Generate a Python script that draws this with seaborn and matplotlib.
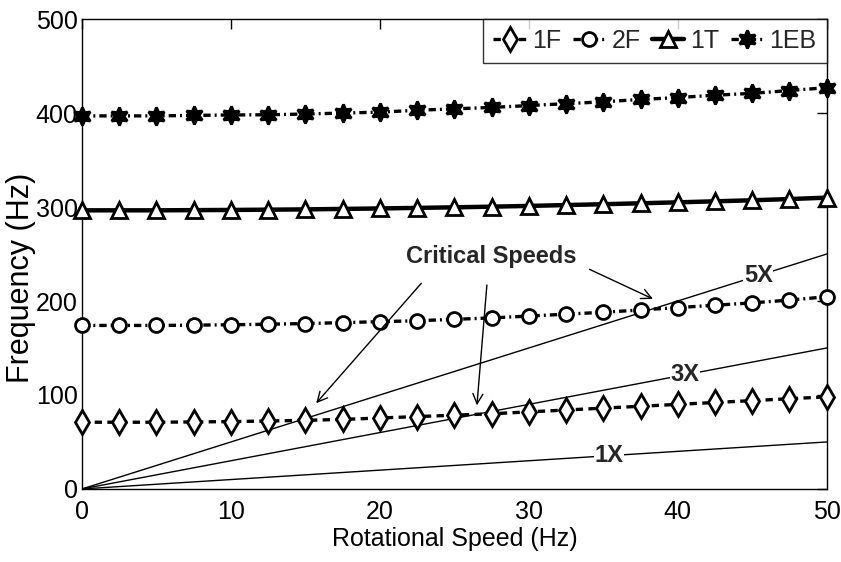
import numpy as np
import pandas as pd
import matplotlib
matplotlib.use("Agg")
import matplotlib.pyplot as plt
import seaborn as sns

# ---- data ----
speed = [0, 2.5, 5, 7.5, 10, 12.5, 15, 17.5, 20, 22.5, 25, 27.5, 30, 32.5, 35, 37.5, 40, 42.5, 45, 47.5, 50]
f_1F = [71, 71, 71, 71.3, 71.7, 72.3, 73, 74, 75.5, 77, 78.5, 80, 82, 84, 86, 88, 90, 92, 94, 96, 98]
f_2F = [174, 174, 174, 174.3, 174.7, 175.3, 176, 177, 178, 179, 180.5, 182, 184, 186, 188, 190.5, 193, 195.5, 198, 201, 204.5]
f_1T = [296.5, 296.5, 296.5, 296.7, 296.9, 297.2, 297.5, 298, 298.5, 299.1, 299.7, 300.4, 301.2, 302.1, 303, 304, 305, 306.1, 307.2, 308.5, 310]
f_1EB = [397, 397, 397, 397.5, 398, 398.2, 399, 400, 401, 403, 404.5, 406, 408, 410, 412, 414.5, 416.5, 419, 421, 424, 427]
series_names = ["1F", "2F", "1T", "1EB"]
orders = [1, 3, 5]
order_labels = ["1X", "3X", "5X"]
order_label_x = [35.4, 40.5, 45.4]
speed_range = [0, 50]
x_ticks = [0, 10, 20, 30, 40, 50]
y_ticks = [0, 100, 200, 300, 400, 500]
annot_text = "Critical Speeds"
annot_text_pos = (27.5, 247)
annot_starts = [(22.9, 221), (27.2, 220), (33.9, 235)]
annot_ends = [(15.6, 89), (26.5, 86), (38.5, 201)]

sns.set_theme(style="white")
plt.rcParams['font.family'] = ['Liberation Sans', 'DejaVu Sans']

fig = plt.figure(figsize=(8.41, 5.62), dpi=100)
ax = fig.add_axes([0.0975, 0.13, 0.8855, 0.836])

# reference order lines
for k, lab, lx in zip(orders, order_labels, order_label_x):
    ax.plot(speed_range, [k * s for s in speed_range], color="black", lw=1.0, zorder=1)
    ax.text(lx, k * lx, lab, ha="center", va="center", fontsize=17, fontweight="bold",
            bbox=dict(facecolor="white", edgecolor="none", pad=0.5), zorder=2)

styles = {
    "1F": dict(marker="d", linestyle=(0, (2.2, 1.6)), lw=2.4, ms=12, mfc="white"),
    "2F": dict(marker="o", linestyle=(0, (2.2, 1.2, 0.6, 1.2)), lw=2.4, ms=10, mfc="white"),
    "1T": dict(marker="^", linestyle="-", lw=3.2, ms=12, mfc="white"),
    "1EB": dict(marker=(6, 1, 0), linestyle=(0, (2.2, 1.2, 0.6, 1.2)), lw=2.4, ms=13, mfc="black"),
}
for name, vals in zip(series_names, [f_1F, f_2F, f_1T, f_1EB]):
    st = styles[name]
    sns.lineplot(x=speed, y=vals, ax=ax, color="black", label=name,
                 marker=st["marker"], linestyle=st["linestyle"], linewidth=st["lw"],
                 markersize=st["ms"], markerfacecolor=st["mfc"], markeredgecolor="black",
                 markeredgewidth=2.0, zorder=3, clip_on=False)

for (sx, sy), (ex, ey) in zip(annot_starts, annot_ends):
    ax.annotate("", xy=(ex, ey), xytext=(sx, sy),
                arrowprops=dict(arrowstyle="->", color="black", lw=1.0, mutation_scale=18))
ax.text(annot_text_pos[0], annot_text_pos[1], annot_text, ha="center", va="center",
        fontsize=17, fontweight="bold")

ax.set_xlim(0, 50)
ax.set_ylim(0, 500)
ax.set_xticks(x_ticks)
ax.set_yticks(y_ticks)
ax.tick_params(direction="in", length=7, width=1, top=True, right=True,
               labelsize=18, colors="black")
ax.tick_params(axis="x", pad=8)
ax.tick_params(axis="y", pad=3)
for s in ax.spines.values():
    s.set_color("black")
    s.set_linewidth(1.0)
ax.set_xlabel("Rotational Speed (Hz)", fontsize=18, color="black", labelpad=2)
ax.set_ylabel("Frequency (Hz)", fontsize=22, color="black")
ax.yaxis.set_label_coords(-0.062, 0.45)
ax.grid(False)

leg = ax.legend(loc="upper right", ncol=4, fontsize=18, frameon=True, fancybox=False,
                borderaxespad=0, handlelength=1.3, handletextpad=0.25, columnspacing=0.45,
                borderpad=0.4, edgecolor="black")
leg.get_frame().set_linewidth(1.0)

fig.savefig("out.png", dpi=100)
